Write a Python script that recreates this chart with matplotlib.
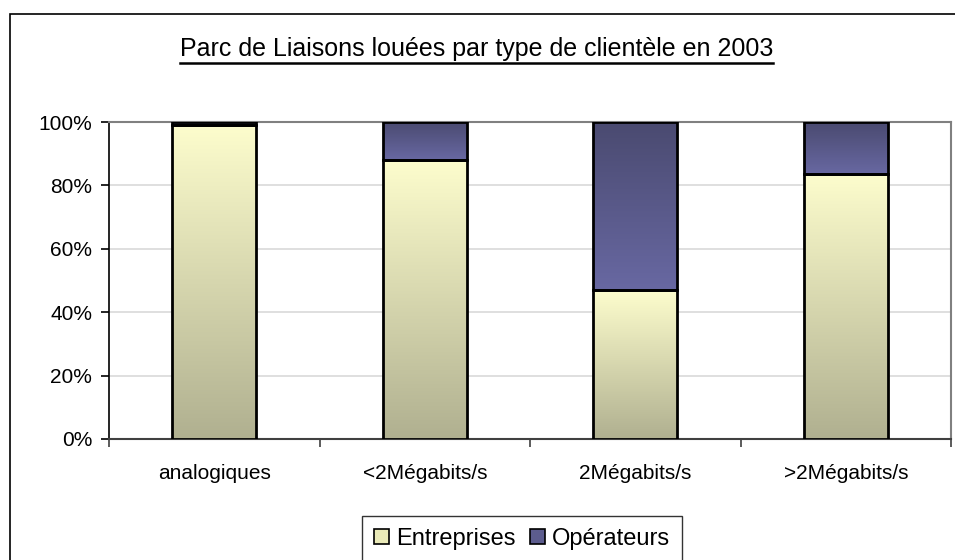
import numpy as np
import matplotlib.pyplot as plt
from matplotlib.patches import Rectangle, Patch
from matplotlib.colors import LinearSegmentedColormap
from matplotlib.lines import Line2D

plt.rcParams['font.family'] = ['Liberation Sans', 'DejaVu Sans']

categories = ['analogiques', '<2Mégabits/s', '2Mégabits/s', '>2Mégabits/s']
entreprises = [99.2, 88.0, 47.0, 83.6]
operateurs = [0.8, 12.0, 53.0, 16.4]
title = 'Parc de Liaisons louées par type de clientèle en 2003'

# gradients run bottom -> top inside each segment
ent_cmap = LinearSegmentedColormap.from_list('ent', ['#b0b090', '#fdfdcd'])
ope_cmap = LinearSegmentedColormap.from_list('ope', ['#6868a2', '#4a4a70'])

W, H = 955, 560
fig = plt.figure(figsize=(W / 100, H / 100), dpi=100)

# outer chart frame
fig.patches.append(Rectangle((10 / W, -0.05), 1.1, 1 - 14 / H + 0.05,
                             transform=fig.transFigure, fill=False,
                             edgecolor='black', lw=1.2))

ax = fig.add_axes([109 / W, 1 - 439 / H, (951 - 109) / W, (439 - 122) / H])

x = np.arange(len(categories))
width = 0.40


def grad_bars(bottoms, heights, cmap):
    bars = ax.bar(x, heights, width, bottom=bottoms, facecolor='none',
                  edgecolor='black', lw=2, zorder=4)
    grad = np.linspace(0, 1, 256).reshape(-1, 1)
    for b in bars:
        x0, y0 = b.get_x(), b.get_y()
        x1, y1 = x0 + b.get_width(), y0 + b.get_height()
        im = ax.imshow(grad, cmap=cmap, origin='lower', aspect='auto',
                       extent=[x0, x1, y0, y1], zorder=3)
        im.set_clip_path(b)
    return bars


grad_bars(np.zeros(len(x)), entreprises, ent_cmap)
grad_bars(entreprises, operateurs, ope_cmap)

ax.set_xlim(-0.5, len(x) - 0.5)
ax.set_ylim(0, 100)
ax.set_yticks(np.arange(0, 101, 20))
ax.set_yticklabels([f'{v}%' for v in range(0, 101, 20)], fontsize=15)
ax.yaxis.grid(True, color='#d9d9d9', lw=1.2)
ax.set_axisbelow(True)

ax.set_xticks(x)
ax.set_xticklabels(categories, fontsize=15)
ax.tick_params(axis='x', length=0, pad=18)
ax.set_xticks(np.arange(-0.5, len(x), 1), minor=True)
ax.tick_params(axis='x', which='minor', length=6, color='#404040', width=1.2)
ax.tick_params(axis='y', length=6, width=1.2, pad=6)

for side in ['top', 'right']:
    ax.spines[side].set_color('#808080')
    ax.spines[side].set_linewidth(1.5)
ax.spines['left'].set_color('black')
ax.spines['bottom'].set_color('#404040')
ax.spines['left'].set_linewidth(1.2)
ax.spines['bottom'].set_linewidth(1.5)

# underlined title
t = fig.text(0.4990, 1 - 49 / H, title, ha='center', va='center', fontsize=18)
fig.canvas.draw()
bb = t.get_window_extent().transformed(fig.transFigure.inverted())
fig.lines.append(Line2D([bb.x0, bb.x1], [bb.y0 - 0.003, bb.y0 - 0.003],
                        transform=fig.transFigure, color='black', lw=1.8))

handles = [Patch(facecolor='#eaeab8', edgecolor='black', lw=1.2, label='Entreprises'),
           Patch(facecolor='#5c5c8e', edgecolor='black', lw=1.2, label='Opérateurs')]
leg = fig.legend(handles=handles, loc='upper left',
                 bbox_to_anchor=(362 / W, 1 - 516 / H), ncol=2, fontsize=17,
                 frameon=True, fancybox=False, handlelength=0.65, handleheight=0.65,
                 handletextpad=0.3, columnspacing=0.6, borderpad=0.5,
                 borderaxespad=0)
leg.get_frame().set_edgecolor('black')
leg.get_frame().set_linewidth(1.0)

fig.savefig('out.png', dpi=100)
